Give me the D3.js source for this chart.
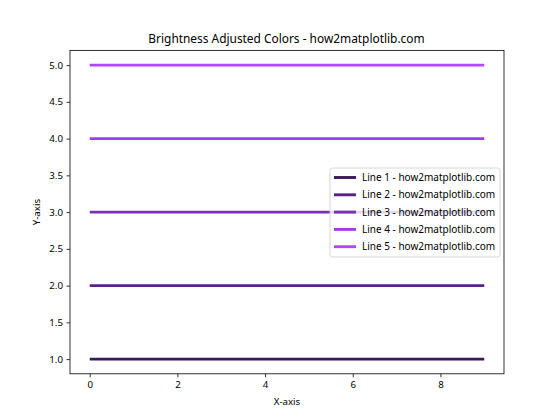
<!DOCTYPE html>
<html><head><meta charset="utf-8">
<script src="https://cdn.jsdelivr.net/npm/d3@7"></script>
<style>body{margin:0;background:#fff}svg{display:block}text{font-family:"Noto Sans",sans-serif}</style>
</head><body>
<script>
const xValues = [0,1,2,3,4,5,6,7,8,9];
const seriesNames = ["Line 1 - how2matplotlib.com","Line 2 - how2matplotlib.com","Line 3 - how2matplotlib.com","Line 4 - how2matplotlib.com","Line 5 - how2matplotlib.com"];
const seriesLevels = [1,2,3,4,5];
const seriesColors = ["#3c175f","#58228a","#7830b5","#a03de6","#b347ff"];
const xTicks = [0,2,4,6,8];
const yTicks = [1.0,1.5,2.0,2.5,3.0,3.5,4.0,4.5,5.0];

const W=560,H=420, L=70,R=504,T=50.4,B=373.8;
const svg=d3.select("body").append("svg").attr("width",W).attr("height",H);
const x=d3.scaleLinear().domain([-0.45,9.45]).range([L,R]);
const y=d3.scaleLinear().domain([0.8,5.2]).range([B,T]);

const line=d3.line().x(d=>x(d.x)).y(d=>y(d.y));
seriesLevels.forEach((lv,i)=>{
  svg.append("path").datum(xValues.map(v=>({x:v,y:lv})))
    .attr("d",line).attr("fill","none").attr("stroke",seriesColors[i]).attr("stroke-width",2.9);
});

const xa=svg.append("g").attr("transform",`translate(0,${B})`)
  .call(d3.axisBottom(x).tickValues(xTicks).tickFormat(d3.format("d")).tickSize(3.5).tickPadding(3.5));
const ya=svg.append("g").attr("transform",`translate(${L},0)`)
  .call(d3.axisLeft(y).tickValues(yTicks).tickFormat(d3.format(".1f")).tickSize(3.5).tickPadding(3.5));
[xa,ya].forEach(a=>{a.select(".domain").remove();a.selectAll("text").attr("font-size",9.7).attr("fill","#000").style("font-family","Noto Sans");a.selectAll("line").attr("stroke","#000").attr("stroke-width",0.8);});

svg.append("rect").attr("x",L).attr("y",T).attr("width",R-L).attr("height",B-T)
  .attr("fill","none").attr("stroke","#000").attr("stroke-width",0.8);

svg.append("text").attr("x",(L+R)/2-0.5).attr("y",T-7).attr("text-anchor","middle").attr("font-size",11.9).text("Brightness Adjusted Colors - how2matplotlib.com");
svg.append("text").attr("x",(L+R)/2).attr("y",405).attr("text-anchor","middle").attr("font-size",9.7).text("X-axis");
svg.append("text").attr("transform",`translate(40,${(T+B)/2}) rotate(-90)`).attr("text-anchor","middle").attr("font-size",9.7).text("Y-axis");

const lg=svg.append("g");
const lx=330, ly=168, lw=170, lh=89;
lg.append("rect").attr("x",lx).attr("y",ly).attr("width",lw).attr("height",lh).attr("rx",2.5)
  .attr("fill","#fff").attr("fill-opacity",0.8).attr("stroke","#cccccc").attr("stroke-width",0.8);
seriesNames.forEach((n,i)=>{
  const yy=ly+9.5+i*17.3;
  lg.append("line").attr("x1",lx+4).attr("x2",lx+26).attr("y1",yy).attr("y2",yy).attr("stroke",seriesColors[i]).attr("stroke-width",2.9);
  lg.append("text").attr("x",lx+32).attr("y",yy).attr("dy","0.35em").attr("font-size",10).text(n);
});
</script>
</body></html>
